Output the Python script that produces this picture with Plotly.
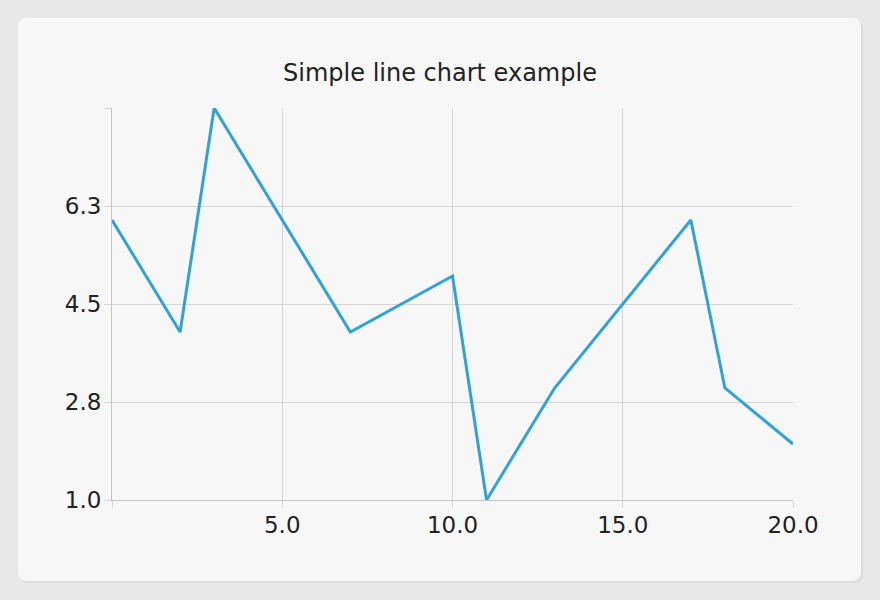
import plotly.graph_objects as go

# Data (Qt-style simple line chart)
x_vals = [0, 2, 3, 7, 10, 11, 13, 17, 18, 20]
y_vals = [6, 4, 8, 4, 5, 1, 3, 6, 3, 2]

x_tickvals = [0, 5, 10, 15, 20]
x_ticktext = ["", "5.0", "10.0", "15.0", "20.0"]
y_tickvals = [1, 2.75, 4.5, 6.25, 8]
y_ticktext = ["1.0", "2.8", "4.5", "6.3", ""]

W, H = 880, 600
L, R, T, B = 112, 87, 108, 100
pw, ph = W - L - R, H - T - B


def px(xp):
    return (xp - L) / pw


def py(yp):
    return (H - B - yp) / ph


def rounded_rect(x0, y0, x1, y1, r):
    rx, ry = r / pw, r / ph
    X0, X1 = px(x0), px(x1)
    Y0, Y1 = py(y0), py(y1)  # Y0 top (larger), Y1 bottom
    return (f"M {X0+rx},{Y0} L {X1-rx},{Y0} Q {X1},{Y0} {X1},{Y0-ry} "
            f"L {X1},{Y1+ry} Q {X1},{Y1} {X1-rx},{Y1} "
            f"L {X0+rx},{Y1} Q {X0},{Y1} {X0},{Y1+ry} "
            f"L {X0},{Y0-ry} Q {X0},{Y0} {X0+rx},{Y0} Z")


fig = go.Figure()
fig.add_trace(go.Scatter(
    x=x_vals, y=y_vals, mode="lines",
    line=dict(color="#30a2d8", width=3),
    hoverinfo="x+y",
))

shapes = [
    dict(type="path", xref="paper", yref="paper", layer="below",
         path=rounded_rect(20, 20, 863, 583, 9), fillcolor="#dcdcdc", line=dict(width=0)),
    dict(type="path", xref="paper", yref="paper", layer="below",
         path=rounded_rect(18, 18, 861, 581, 9), fillcolor="#f7f7f7", line=dict(width=0)),
]

grid = "#d6d6d6"
fig.update_layout(
    width=W, height=H,
    margin=dict(l=L, r=R, t=T, b=B),
    paper_bgcolor="#e8e8e8",
    plot_bgcolor="rgba(0,0,0,0)",
    shapes=shapes,
    showlegend=False,
    font=dict(family="DejaVu Sans", color="#222222"),
    title=dict(text="Simple line chart example", x=0.5, xanchor="center",
               y=1 - 73 / H, yanchor="middle", yref="container",
               font=dict(size=24, family="DejaVu Sans", color="#222222")),
)
fig.update_xaxes(
    range=[0, 20], tickvals=x_tickvals, ticktext=x_ticktext,
    showgrid=True, gridcolor=grid, gridwidth=1,
    showline=True, linecolor="#c4c4c4", linewidth=1,
    ticks="outside", ticklen=7, tickcolor=grid,
    ticklabelstandoff=-3,
    tickfont=dict(size=23, family="DejaVu Sans", color="#222222"),
    zeroline=False,
)
fig.update_yaxes(
    range=[1, 8], tickvals=y_tickvals, ticktext=y_ticktext,
    showgrid=True, gridcolor=grid, gridwidth=1,
    showline=True, linecolor="#c4c4c4", linewidth=1,
    ticks="outside", ticklen=7, tickcolor=grid,
    ticklabelstandoff=-2,
    tickfont=dict(size=23, family="DejaVu Sans", color="#222222"),
    zeroline=False,
)

fig.write_html("out.html", config={"displayModeBar": False},
               post_script="document.body.style.margin='0';")
